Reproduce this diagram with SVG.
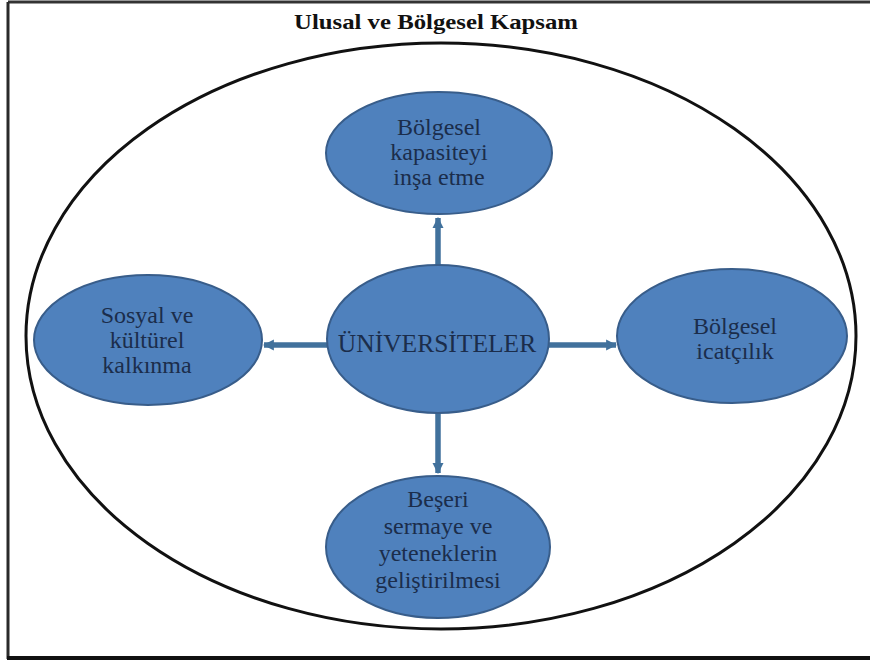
<svg xmlns="http://www.w3.org/2000/svg" width="870" height="666" viewBox="0 0 870 666">
<defs>
<style>
.node{fill:#4f81bd;stroke:#385d8a;stroke-width:2}
.lbl{font-family:'Liberation Serif','Times New Roman',serif;font-size:24px;fill:#1b2d4b;text-anchor:middle}
.conn{stroke:#41719c;stroke-width:5.5;fill:none}
</style>
<marker id="ah" viewBox="0 0 10 10" refX="9" refY="5" markerWidth="2" markerHeight="2.2" orient="auto" markerUnits="strokeWidth">
<path d="M0,0 L10,5 L0,10 Z" fill="#41719c"/>
</marker>
</defs>
<rect x="0" y="0" width="870" height="666" fill="#ffffff"/>
<g id="frame">
<line x1="8" y1="2" x2="870" y2="2" stroke="#333" stroke-width="3"/>
<line x1="8" y1="2" x2="8" y2="659" stroke="#2a2a2a" stroke-width="3"/>
<line x1="7" y1="658" x2="870" y2="658" stroke="#111" stroke-width="4"/>
</g>
<g id="scope">
<ellipse cx="441" cy="336" rx="415" ry="293" fill="none" stroke="#111" stroke-width="3"/>
<text x="436" y="29" font-family="'Liberation Serif','Times New Roman',serif" font-size="21" font-weight="bold" text-anchor="middle" textLength="284" lengthAdjust="spacingAndGlyphs" fill="#111">Ulusal ve Bölgesel Kapsam</text>
</g>
<g id="connectors">
<line class="conn" x1="438" y1="266" x2="438" y2="218" marker-end="url(#ah)"/>
<line class="conn" x1="438" y1="411" x2="438" y2="473" marker-end="url(#ah)"/>
<line class="conn" x1="328" y1="345" x2="264" y2="345" marker-end="url(#ah)"/>
<line class="conn" x1="548" y1="345" x2="616" y2="345" marker-end="url(#ah)"/>
</g>
<g id="center">
<ellipse class="node" cx="438" cy="339" rx="111" ry="74"/>
<text class="lbl" x="437" y="352" font-size="25.5" style="font-size:25.5px">ÜNİVERSİTELER</text>
</g>
<g id="top">
<ellipse class="node" cx="439" cy="153" rx="113" ry="61"/>
<text class="lbl" x="439" y="135">Bölgesel</text>
<text class="lbl" x="439" y="160">kapasiteyi</text>
<text class="lbl" x="439" y="185">inşa etme</text>
</g>
<g id="left">
<ellipse class="node" cx="148" cy="340" rx="114" ry="65"/>
<text class="lbl" x="147" y="323">Sosyal ve</text>
<text class="lbl" x="147" y="348">kültürel</text>
<text class="lbl" x="147" y="373">kalkınma</text>
</g>
<g id="right">
<ellipse class="node" cx="732" cy="336" rx="115" ry="67"/>
<text class="lbl" x="735" y="334">Bölgesel</text>
<text class="lbl" x="735" y="359">icatçılık</text>
</g>
<g id="bottom">
<ellipse class="node" cx="438" cy="547" rx="112" ry="71"/>
<text class="lbl" x="438" y="507">Beşeri</text>
<text class="lbl" x="438" y="534">sermaye ve</text>
<text class="lbl" x="438" y="561">yeteneklerin</text>
<text class="lbl" x="438" y="588">geliştirilmesi</text>
</g>
</svg>
